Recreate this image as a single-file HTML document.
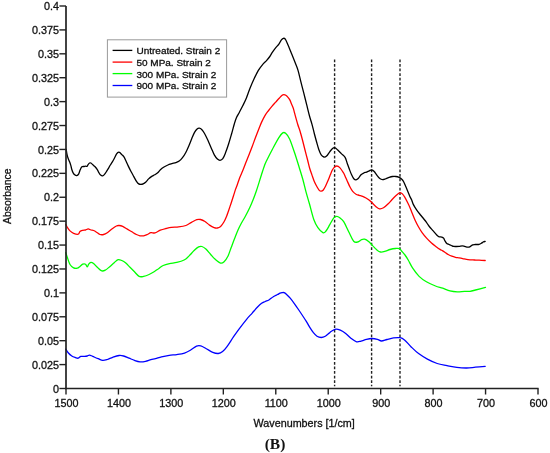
<!DOCTYPE html><html><head><meta charset="utf-8"><style>html,body{margin:0;padding:0;background:#fff;}svg{display:block;will-change:transform;}text{font-family:"Liberation Sans", sans-serif;fill:#111;stroke:#111;stroke-width:0.3px;}</style></head><body>
<svg width="550" height="453" viewBox="0 0 550 453">
<rect width="550" height="453" fill="#fff"/>
<line x1="334.60" y1="59.4" x2="334.60" y2="386.3" stroke="#222" stroke-width="1.4" stroke-dasharray="2.8 1.783"/>
<line x1="371.60" y1="59.4" x2="371.60" y2="386.3" stroke="#222" stroke-width="1.4" stroke-dasharray="2.8 1.783"/>
<line x1="400.00" y1="59.4" x2="400.00" y2="386.3" stroke="#222" stroke-width="1.4" stroke-dasharray="2.8 1.783"/>
<path d="M66.20 149.40 C66.33 150.22 66.68 152.83 67.00 154.30 C67.32 155.77 67.65 156.90 68.10 158.20 C68.55 159.50 69.25 160.90 69.70 162.10 C70.15 163.30 70.43 164.12 70.80 165.40 C71.17 166.68 71.53 168.60 71.90 169.80 C72.27 171.00 72.53 171.77 73.00 172.60 C73.47 173.43 74.08 174.28 74.70 174.80 C75.32 175.32 76.05 175.80 76.70 175.70 C77.35 175.60 78.02 175.18 78.60 174.20 C79.18 173.22 79.65 171.03 80.20 169.80 C80.75 168.57 81.25 167.35 81.90 166.80 C82.55 166.25 83.47 166.60 84.10 166.50 C84.73 166.40 85.18 166.23 85.70 166.20 C86.22 166.17 86.83 166.53 87.20 166.30 C87.57 166.07 87.50 165.35 87.90 164.80 C88.30 164.25 89.10 163.30 89.60 163.00 C90.10 162.70 90.35 162.70 90.90 163.00 C91.45 163.30 92.20 164.17 92.90 164.80 C93.60 165.43 94.37 166.00 95.10 166.80 C95.83 167.60 96.65 168.58 97.30 169.60 C97.95 170.62 98.45 171.98 99.00 172.90 C99.55 173.82 100.00 174.60 100.60 175.10 C101.20 175.60 101.95 176.02 102.60 175.90 C103.25 175.78 103.82 175.18 104.50 174.40 C105.18 173.62 105.97 172.33 106.70 171.20 C107.43 170.07 108.35 168.55 108.90 167.60 C109.45 166.65 109.45 166.42 110.00 165.50 C110.55 164.58 111.47 163.32 112.20 162.10 C112.93 160.88 113.67 159.58 114.40 158.20 C115.13 156.82 115.87 154.82 116.60 153.80 C117.33 152.78 118.15 152.20 118.80 152.10 C119.45 152.00 119.95 152.73 120.50 153.20 C121.05 153.67 121.55 154.33 122.10 154.90 C122.65 155.47 123.15 155.58 123.80 156.60 C124.45 157.62 125.27 159.45 126.00 161.00 C126.73 162.55 127.37 164.15 128.20 165.90 C129.03 167.65 130.08 169.75 131.00 171.50 C131.92 173.25 132.78 174.75 133.70 176.40 C134.62 178.05 135.67 180.15 136.50 181.40 C137.33 182.65 137.97 183.40 138.70 183.90 C139.43 184.40 140.17 184.40 140.90 184.40 C141.63 184.40 142.27 184.32 143.10 183.90 C143.93 183.48 144.98 182.73 145.90 181.90 C146.82 181.07 147.68 179.78 148.60 178.90 C149.52 178.02 150.38 177.28 151.40 176.60 C152.42 175.92 153.65 175.43 154.70 174.80 C155.75 174.17 156.75 173.65 157.70 172.80 C158.65 171.95 159.35 170.67 160.40 169.70 C161.45 168.73 162.75 167.78 164.00 167.00 C165.25 166.22 166.58 165.55 167.90 165.00 C169.22 164.45 170.57 164.10 171.90 163.70 C173.23 163.30 174.68 163.03 175.90 162.60 C177.12 162.17 178.10 161.92 179.20 161.10 C180.30 160.28 181.40 159.13 182.50 157.70 C183.60 156.27 184.70 154.58 185.80 152.50 C186.90 150.42 188.10 147.53 189.10 145.20 C190.10 142.87 190.92 140.60 191.80 138.50 C192.68 136.40 193.52 134.18 194.40 132.60 C195.28 131.02 196.28 129.73 197.10 129.00 C197.92 128.27 198.53 128.12 199.30 128.20 C200.07 128.28 200.85 128.67 201.70 129.50 C202.55 130.33 203.37 131.40 204.40 133.20 C205.43 135.00 206.77 137.85 207.90 140.30 C209.03 142.75 210.13 145.47 211.20 147.90 C212.27 150.33 213.27 153.05 214.30 154.90 C215.33 156.75 216.45 158.10 217.40 159.00 C218.35 159.90 219.10 160.35 220.00 160.30 C220.90 160.25 221.87 159.98 222.80 158.70 C223.73 157.42 224.65 155.00 225.60 152.60 C226.55 150.20 227.53 147.32 228.50 144.30 C229.47 141.28 230.43 137.88 231.40 134.50 C232.37 131.12 233.45 126.83 234.30 124.00 C235.15 121.17 235.65 119.47 236.50 117.50 C237.35 115.53 238.32 114.23 239.40 112.20 C240.48 110.17 241.85 107.63 243.00 105.30 C244.15 102.97 245.15 101.00 246.30 98.20 C247.45 95.40 248.60 91.73 249.90 88.50 C251.20 85.27 252.72 81.78 254.10 78.80 C255.48 75.82 256.82 72.93 258.20 70.60 C259.58 68.27 261.02 66.47 262.40 64.80 C263.78 63.13 265.27 61.98 266.50 60.60 C267.73 59.22 268.83 57.87 269.80 56.50 C270.77 55.13 271.33 53.83 272.30 52.40 C273.27 50.97 274.50 49.28 275.60 47.90 C276.70 46.52 277.93 45.43 278.90 44.10 C279.87 42.77 280.65 40.87 281.40 39.90 C282.15 38.93 282.75 38.42 283.40 38.30 C284.05 38.18 284.57 38.18 285.30 39.20 C286.03 40.22 286.75 41.97 287.80 44.40 C288.85 46.83 290.35 50.68 291.60 53.80 C292.85 56.92 294.22 60.30 295.30 63.10 C296.38 65.90 297.17 67.47 298.10 70.60 C299.03 73.73 299.95 78.13 300.90 81.90 C301.85 85.67 302.85 89.45 303.80 93.20 C304.75 96.95 305.65 100.60 306.60 104.40 C307.55 108.20 308.60 112.68 309.50 116.00 C310.40 119.32 311.20 121.38 312.00 124.30 C312.80 127.22 313.53 130.55 314.30 133.50 C315.07 136.45 315.83 139.28 316.60 142.00 C317.37 144.72 318.13 147.65 318.90 149.80 C319.67 151.95 320.37 153.70 321.20 154.90 C322.03 156.10 323.00 156.82 323.90 157.00 C324.80 157.18 325.63 156.87 326.60 156.00 C327.57 155.13 328.67 153.10 329.70 151.80 C330.73 150.50 331.90 148.87 332.80 148.20 C333.70 147.53 334.32 147.53 335.10 147.80 C335.88 148.07 336.47 148.83 337.50 149.80 C338.53 150.77 340.03 152.33 341.30 153.60 C342.57 154.87 344.12 155.80 345.10 157.40 C346.08 159.00 346.48 161.22 347.20 163.20 C347.92 165.18 348.67 167.37 349.40 169.30 C350.13 171.23 350.87 173.23 351.60 174.80 C352.33 176.37 353.07 177.87 353.80 178.70 C354.53 179.53 355.27 179.83 356.00 179.80 C356.73 179.77 357.37 179.33 358.20 178.50 C359.03 177.67 360.07 175.72 361.00 174.80 C361.93 173.88 362.88 173.45 363.80 173.00 C364.72 172.55 365.58 172.47 366.50 172.10 C367.42 171.73 368.43 171.17 369.30 170.80 C370.17 170.43 370.88 169.78 371.70 169.90 C372.52 170.02 373.32 170.58 374.20 171.50 C375.08 172.42 376.07 174.23 377.00 175.40 C377.93 176.57 378.88 177.80 379.80 178.50 C380.72 179.20 381.58 179.52 382.50 179.60 C383.42 179.68 384.18 179.37 385.30 179.00 C386.42 178.63 388.00 177.82 389.20 177.40 C390.40 176.98 391.40 176.65 392.50 176.50 C393.60 176.35 394.70 176.35 395.80 176.50 C396.90 176.65 398.10 176.95 399.10 177.40 C400.10 177.85 401.07 178.52 401.80 179.20 C402.53 179.88 402.80 180.18 403.50 181.50 C404.20 182.82 404.93 184.62 406.00 187.10 C407.07 189.58 408.95 194.25 409.90 196.40 C410.85 198.55 411.13 198.67 411.70 200.00 C412.27 201.33 412.48 202.75 413.30 204.40 C414.12 206.05 415.32 208.05 416.60 209.90 C417.88 211.75 419.52 213.65 421.00 215.50 C422.48 217.35 424.12 219.17 425.50 221.00 C426.88 222.83 428.02 224.85 429.30 226.50 C430.58 228.15 432.00 229.52 433.20 230.90 C434.40 232.28 435.58 233.85 436.50 234.80 C437.42 235.75 437.82 236.22 438.70 236.60 C439.58 236.98 440.98 236.83 441.80 237.10 C442.62 237.37 443.07 237.57 443.60 238.20 C444.13 238.83 444.47 240.02 445.00 240.90 C445.53 241.78 446.12 242.90 446.80 243.50 C447.48 244.10 448.33 244.17 449.10 244.50 C449.87 244.83 450.65 245.18 451.40 245.50 C452.15 245.82 452.77 246.23 453.60 246.40 C454.43 246.57 455.48 246.50 456.40 246.50 C457.32 246.50 458.12 246.50 459.10 246.40 C460.08 246.30 461.40 245.90 462.30 245.90 C463.20 245.90 463.75 246.20 464.50 246.40 C465.25 246.60 466.03 246.98 466.80 247.10 C467.57 247.22 468.42 247.27 469.10 247.10 C469.78 246.93 470.30 246.48 470.90 246.10 C471.50 245.72 472.02 245.07 472.70 244.80 C473.38 244.53 474.23 244.55 475.00 244.50 C475.77 244.45 476.62 244.53 477.30 244.50 C477.98 244.47 478.42 244.52 479.10 244.30 C479.78 244.08 480.72 243.58 481.40 243.20 C482.08 242.82 482.57 242.30 483.20 242.00 C483.83 241.70 484.87 241.50 485.20 241.40" fill="none" stroke="#000" stroke-width="1.3" stroke-linejoin="round" stroke-linecap="round"/>
<path d="M65.80 224.50 C66.05 224.97 66.60 226.23 67.30 227.30 C68.00 228.37 68.95 229.90 70.00 230.90 C71.05 231.90 72.23 232.75 73.60 233.30 C74.97 233.85 77.13 234.50 78.20 234.20 C79.27 233.90 79.25 232.13 80.00 231.50 C80.75 230.87 81.78 230.65 82.70 230.40 C83.62 230.15 84.58 230.25 85.50 230.00 C86.42 229.75 87.30 228.90 88.20 228.90 C89.10 228.90 90.00 229.73 90.90 230.00 C91.80 230.27 92.53 230.05 93.60 230.50 C94.67 230.95 96.23 232.03 97.30 232.70 C98.37 233.37 98.95 234.20 100.00 234.50 C101.05 234.80 102.38 234.80 103.60 234.50 C104.82 234.20 105.93 233.60 107.30 232.70 C108.67 231.80 110.28 230.22 111.80 229.10 C113.32 227.98 115.18 226.60 116.40 226.00 C117.62 225.40 118.05 225.43 119.10 225.50 C120.15 225.57 121.33 225.80 122.70 226.40 C124.07 227.00 125.78 228.20 127.30 229.10 C128.82 230.00 130.28 230.90 131.80 231.80 C133.32 232.70 135.03 233.83 136.40 234.50 C137.77 235.17 138.80 235.58 140.00 235.80 C141.20 236.02 142.38 236.02 143.60 235.80 C144.82 235.58 146.08 235.02 147.30 234.50 C148.52 233.98 149.62 232.97 150.90 232.70 C152.18 232.43 153.43 233.32 155.00 232.90 C156.57 232.48 158.48 230.93 160.30 230.20 C162.12 229.47 164.05 228.98 165.90 228.50 C167.75 228.02 169.28 227.57 171.40 227.30 C173.52 227.03 176.18 227.20 178.60 226.90 C181.02 226.60 183.77 226.25 185.90 225.50 C188.03 224.75 189.58 223.38 191.40 222.40 C193.22 221.42 195.28 220.08 196.80 219.60 C198.32 219.12 199.13 219.18 200.50 219.50 C201.87 219.82 203.50 220.57 205.00 221.50 C206.50 222.43 207.98 224.08 209.50 225.10 C211.02 226.12 212.80 227.12 214.10 227.60 C215.40 228.08 216.22 228.20 217.30 228.00 C218.38 227.80 219.50 227.40 220.60 226.40 C221.70 225.40 222.88 223.75 223.90 222.00 C224.92 220.25 225.95 217.70 226.70 215.90 C227.45 214.10 227.67 213.32 228.40 211.20 C229.13 209.08 230.25 205.77 231.10 203.20 C231.95 200.63 232.77 198.10 233.50 195.80 C234.23 193.50 234.88 191.20 235.50 189.40 C236.12 187.60 236.52 186.92 237.20 185.00 C237.88 183.08 238.63 180.40 239.60 177.90 C240.57 175.40 241.88 172.73 243.00 170.00 C244.12 167.27 245.22 164.25 246.30 161.50 C247.38 158.75 248.50 156.03 249.50 153.50 C250.50 150.97 251.30 148.97 252.30 146.30 C253.30 143.63 254.33 140.60 255.50 137.50 C256.67 134.40 258.30 130.22 259.30 127.70 C260.30 125.18 260.53 124.45 261.50 122.40 C262.47 120.35 263.92 117.38 265.10 115.40 C266.28 113.42 267.43 112.05 268.60 110.50 C269.77 108.95 270.92 107.50 272.10 106.10 C273.28 104.70 274.52 103.42 275.70 102.10 C276.88 100.78 278.18 99.30 279.20 98.20 C280.22 97.10 281.03 96.10 281.80 95.50 C282.57 94.90 283.13 94.65 283.80 94.60 C284.47 94.55 285.10 94.75 285.80 95.20 C286.50 95.65 287.33 96.52 288.00 97.30 C288.67 98.08 289.22 98.80 289.80 99.90 C290.38 101.00 290.92 102.50 291.50 103.90 C292.08 105.30 292.77 106.70 293.30 108.30 C293.83 109.90 293.97 110.85 294.70 113.50 C295.43 116.15 296.82 121.28 297.70 124.20 C298.58 127.12 299.18 128.28 300.00 131.00 C300.82 133.72 301.77 137.33 302.60 140.50 C303.43 143.67 304.17 146.75 305.00 150.00 C305.83 153.25 306.83 157.00 307.60 160.00 C308.37 163.00 308.87 165.48 309.60 168.00 C310.33 170.52 311.22 172.85 312.00 175.10 C312.78 177.35 313.45 179.52 314.30 181.50 C315.15 183.48 316.23 185.48 317.10 187.00 C317.97 188.52 318.83 189.90 319.50 190.60 C320.17 191.30 320.50 191.27 321.10 191.20 C321.70 191.13 322.37 191.03 323.10 190.20 C323.83 189.37 324.72 187.72 325.50 186.20 C326.28 184.68 327.02 182.95 327.80 181.10 C328.58 179.25 329.47 176.90 330.20 175.10 C330.93 173.30 331.57 171.55 332.20 170.30 C332.83 169.05 333.25 168.32 334.00 167.60 C334.75 166.88 335.73 166.00 336.70 166.00 C337.67 166.00 338.65 166.43 339.80 167.60 C340.95 168.77 342.73 171.62 343.60 173.00 C344.47 174.38 344.40 174.58 345.00 175.90 C345.60 177.22 346.37 179.05 347.20 180.90 C348.03 182.75 349.08 185.25 350.00 187.00 C350.92 188.75 351.70 190.20 352.70 191.40 C353.70 192.60 354.90 193.55 356.00 194.20 C357.10 194.85 358.18 194.93 359.30 195.30 C360.42 195.67 361.58 195.95 362.70 196.40 C363.82 196.85 365.00 197.45 366.00 198.00 C367.00 198.55 367.77 198.98 368.70 199.70 C369.63 200.42 370.47 201.22 371.60 202.30 C372.73 203.38 374.18 205.12 375.50 206.20 C376.82 207.28 378.17 208.53 379.50 208.80 C380.83 209.07 382.00 208.68 383.50 207.80 C385.00 206.92 387.10 204.85 388.50 203.50 C389.90 202.15 390.68 200.98 391.90 199.70 C393.12 198.42 394.60 196.92 395.80 195.80 C397.00 194.68 398.28 193.50 399.10 193.00 C399.92 192.50 400.15 192.65 400.70 192.80 C401.25 192.95 401.75 193.22 402.40 193.90 C403.05 194.58 403.72 195.42 404.60 196.90 C405.48 198.38 406.80 201.00 407.70 202.80 C408.60 204.60 409.25 205.97 410.00 207.70 C410.75 209.43 411.37 211.17 412.20 213.20 C413.03 215.23 413.98 217.68 415.00 219.90 C416.02 222.12 417.12 224.38 418.30 226.50 C419.48 228.62 420.72 230.67 422.10 232.60 C423.48 234.53 425.03 236.37 426.60 238.10 C428.17 239.83 429.85 241.53 431.50 243.00 C433.15 244.47 435.08 245.83 436.50 246.90 C437.92 247.97 438.97 248.73 440.00 249.40 C441.03 250.07 441.78 250.35 442.70 250.90 C443.62 251.45 444.58 252.10 445.50 252.70 C446.42 253.30 447.15 253.92 448.20 254.50 C449.25 255.08 450.58 255.73 451.80 256.20 C453.02 256.67 454.28 257.02 455.50 257.30 C456.72 257.58 457.90 257.68 459.10 257.90 C460.30 258.12 461.48 258.35 462.70 258.60 C463.92 258.85 465.18 259.20 466.40 259.40 C467.62 259.60 468.65 259.70 470.00 259.80 C471.35 259.90 472.98 259.93 474.50 260.00 C476.02 260.07 477.32 260.12 479.10 260.20 C480.88 260.28 484.18 260.45 485.20 260.50" fill="none" stroke="#ff0000" stroke-width="1.3" stroke-linejoin="round" stroke-linecap="round"/>
<path d="M65.80 252.70 C66.05 253.47 66.60 255.33 67.30 257.30 C68.00 259.27 68.95 262.75 70.00 264.50 C71.05 266.25 72.38 267.18 73.60 267.80 C74.82 268.42 76.23 268.43 77.30 268.20 C78.37 267.97 79.10 267.07 80.00 266.40 C80.90 265.73 81.78 264.57 82.70 264.20 C83.62 263.83 84.73 263.75 85.50 264.20 C86.27 264.65 86.77 266.90 87.30 266.90 C87.83 266.90 88.10 264.95 88.70 264.20 C89.30 263.45 90.08 262.50 90.90 262.40 C91.72 262.30 92.53 262.78 93.60 263.60 C94.67 264.42 95.93 266.08 97.30 267.30 C98.67 268.52 100.43 270.45 101.80 270.90 C103.17 271.35 104.13 270.75 105.50 270.00 C106.87 269.25 108.50 267.67 110.00 266.40 C111.50 265.13 113.13 263.53 114.50 262.40 C115.87 261.27 116.98 259.92 118.20 259.60 C119.42 259.28 120.58 259.98 121.80 260.50 C123.02 261.02 124.13 261.57 125.50 262.70 C126.87 263.83 128.50 265.78 130.00 267.30 C131.50 268.82 132.98 270.28 134.50 271.80 C136.02 273.32 137.58 275.63 139.10 276.40 C140.62 277.17 141.93 276.72 143.60 276.40 C145.27 276.08 147.28 275.32 149.10 274.50 C150.92 273.68 152.92 272.47 154.50 271.50 C156.08 270.53 157.15 269.70 158.60 268.70 C160.05 267.70 161.38 266.35 163.20 265.50 C165.02 264.65 167.23 264.12 169.50 263.60 C171.77 263.08 174.37 263.00 176.80 262.40 C179.23 261.80 182.13 261.00 184.10 260.00 C186.07 259.00 186.93 257.98 188.60 256.40 C190.27 254.82 192.43 252.08 194.10 250.50 C195.77 248.92 197.30 247.57 198.60 246.90 C199.90 246.23 200.68 246.13 201.90 246.50 C203.12 246.87 204.47 247.82 205.90 249.10 C207.33 250.38 208.98 252.53 210.50 254.20 C212.02 255.87 213.33 257.62 215.00 259.10 C216.67 260.58 218.98 262.65 220.50 263.10 C222.02 263.55 222.87 262.93 224.10 261.80 C225.33 260.67 226.72 258.68 227.90 256.30 C229.08 253.92 230.08 250.47 231.20 247.50 C232.32 244.53 233.48 241.38 234.60 238.50 C235.72 235.62 236.80 232.70 237.90 230.20 C239.00 227.70 239.93 225.87 241.20 223.50 C242.47 221.13 244.07 218.67 245.50 216.00 C246.93 213.33 248.52 210.25 249.80 207.50 C251.08 204.75 252.08 202.33 253.20 199.50 C254.32 196.67 255.22 194.33 256.50 190.50 C257.78 186.67 259.57 180.67 260.90 176.50 C262.23 172.33 263.53 168.17 264.50 165.50 C265.47 162.83 265.33 163.28 266.70 160.50 C268.07 157.72 270.70 152.57 272.70 148.80 C274.70 145.03 277.03 140.55 278.70 137.90 C280.37 135.25 281.55 133.67 282.70 132.90 C283.85 132.13 284.45 132.30 285.60 133.30 C286.75 134.30 288.10 135.65 289.60 138.90 C291.10 142.15 292.93 147.83 294.60 152.80 C296.27 157.77 298.20 164.17 299.60 168.70 C301.00 173.23 301.93 176.13 303.00 180.00 C304.07 183.87 304.92 187.90 306.00 191.90 C307.08 195.90 308.18 199.35 309.50 204.00 C310.82 208.65 312.50 215.85 313.90 219.80 C315.30 223.75 316.40 225.55 317.90 227.70 C319.40 229.85 321.58 232.10 322.90 232.70 C324.22 233.30 324.65 232.63 325.80 231.30 C326.95 229.97 328.47 226.95 329.80 224.70 C331.13 222.45 332.63 219.18 333.80 217.80 C334.97 216.42 335.80 216.40 336.80 216.40 C337.80 216.40 338.65 216.92 339.80 217.80 C340.95 218.68 342.22 219.38 343.70 221.70 C345.18 224.02 347.03 228.45 348.70 231.70 C350.37 234.95 352.20 239.48 353.70 241.20 C355.20 242.92 356.38 242.27 357.70 242.00 C359.02 241.73 360.45 240.07 361.60 239.60 C362.75 239.13 363.43 238.87 364.60 239.20 C365.77 239.53 367.27 240.53 368.60 241.60 C369.93 242.67 371.28 244.27 372.60 245.60 C373.92 246.93 375.18 248.53 376.50 249.60 C377.82 250.67 379.00 251.73 380.50 252.00 C382.00 252.27 383.92 251.62 385.50 251.20 C387.08 250.78 388.33 249.95 390.00 249.50 C391.67 249.05 393.93 248.63 395.50 248.50 C397.07 248.37 398.30 248.18 399.40 248.70 C400.50 249.22 401.17 250.55 402.10 251.60 C403.03 252.65 403.98 253.60 405.00 255.00 C406.02 256.40 406.92 257.80 408.20 260.00 C409.48 262.20 410.88 265.47 412.70 268.20 C414.52 270.93 416.82 274.13 419.10 276.40 C421.38 278.67 423.67 280.20 426.40 281.80 C429.13 283.40 432.78 284.93 435.50 286.00 C438.22 287.07 440.28 287.38 442.70 288.20 C445.12 289.02 447.57 290.30 450.00 290.90 C452.43 291.50 454.88 291.73 457.30 291.80 C459.72 291.87 462.38 291.38 464.50 291.30 C466.62 291.22 468.17 291.52 470.00 291.30 C471.83 291.08 472.92 290.67 475.50 290.00 C478.08 289.33 483.83 287.75 485.50 287.30" fill="none" stroke="#00ff00" stroke-width="1.3" stroke-linejoin="round" stroke-linecap="round"/>
<path d="M65.80 349.10 C66.20 349.70 67.20 351.55 68.20 352.70 C69.20 353.85 70.58 355.18 71.80 356.00 C73.02 356.82 74.43 357.23 75.50 357.60 C76.57 357.97 77.30 358.40 78.20 358.20 C79.10 358.00 79.85 356.70 80.90 356.40 C81.95 356.10 83.43 356.47 84.50 356.40 C85.57 356.33 86.47 356.22 87.30 356.00 C88.13 355.78 88.60 355.03 89.50 355.10 C90.40 355.17 91.25 355.80 92.70 356.40 C94.15 357.00 96.53 358.03 98.20 358.70 C99.87 359.37 101.18 360.27 102.70 360.40 C104.22 360.53 105.63 360.02 107.30 359.50 C108.97 358.98 110.73 357.97 112.70 357.30 C114.67 356.63 117.28 355.72 119.10 355.50 C120.92 355.28 121.93 355.55 123.60 356.00 C125.27 356.45 127.28 357.47 129.10 358.20 C130.92 358.93 132.68 359.80 134.50 360.40 C136.32 361.00 138.17 361.65 140.00 361.80 C141.83 361.95 143.68 361.67 145.50 361.30 C147.32 360.93 149.23 360.05 150.90 359.60 C152.57 359.15 153.73 359.07 155.50 358.60 C157.27 358.13 159.22 357.35 161.50 356.80 C163.78 356.25 166.65 355.67 169.20 355.30 C171.75 354.93 174.25 354.97 176.80 354.60 C179.35 354.23 182.13 353.90 184.50 353.10 C186.87 352.30 189.00 350.97 191.00 349.80 C193.00 348.63 194.87 346.75 196.50 346.10 C198.13 345.45 199.17 345.47 200.80 345.90 C202.43 346.33 204.30 347.62 206.30 348.70 C208.30 349.78 210.80 351.60 212.80 352.40 C214.80 353.20 216.67 353.63 218.30 353.50 C219.93 353.37 221.15 352.75 222.60 351.60 C224.05 350.45 225.17 349.08 227.00 346.60 C228.83 344.12 231.60 339.62 233.60 336.70 C235.60 333.78 236.83 332.00 239.00 329.10 C241.17 326.20 244.40 321.97 246.60 319.30 C248.80 316.63 250.42 315.10 252.20 313.10 C253.98 311.10 255.73 308.93 257.30 307.30 C258.87 305.67 260.27 304.27 261.60 303.30 C262.93 302.33 264.08 302.05 265.30 301.50 C266.52 300.95 267.57 300.80 268.90 300.00 C270.23 299.20 271.85 297.62 273.30 296.70 C274.75 295.78 276.48 295.08 277.60 294.50 C278.72 293.92 279.27 293.52 280.00 293.20 C280.73 292.88 281.30 292.68 282.00 292.60 C282.70 292.52 283.35 292.32 284.20 292.70 C285.05 293.08 286.10 293.98 287.10 294.90 C288.10 295.82 288.97 296.72 290.20 298.20 C291.43 299.68 293.07 301.83 294.50 303.80 C295.93 305.77 296.83 307.07 298.80 310.00 C300.77 312.93 304.47 318.50 306.30 321.40 C308.13 324.30 308.62 325.52 309.80 327.40 C310.98 329.28 312.20 331.22 313.40 332.70 C314.60 334.18 315.70 335.50 317.00 336.30 C318.30 337.10 319.82 337.50 321.20 337.50 C322.58 337.50 324.02 337.00 325.30 336.30 C326.58 335.60 327.87 334.13 328.90 333.30 C329.93 332.47 330.33 332.00 331.50 331.30 C332.67 330.60 334.43 329.28 335.90 329.10 C337.37 328.92 338.67 329.47 340.30 330.20 C341.93 330.93 343.88 332.12 345.70 333.50 C347.52 334.88 349.38 337.12 351.20 338.50 C353.02 339.88 354.97 341.37 356.60 341.80 C358.23 342.23 359.35 341.52 361.00 341.10 C362.65 340.68 364.68 339.73 366.50 339.30 C368.32 338.87 370.08 338.50 371.90 338.50 C373.72 338.50 375.80 338.88 377.40 339.30 C379.00 339.72 379.90 340.97 381.50 341.00 C383.10 341.03 385.00 340.02 387.00 339.50 C389.00 338.98 391.32 338.20 393.50 337.90 C395.68 337.60 398.27 337.37 400.10 337.70 C401.93 338.03 402.68 338.40 404.50 339.90 C406.32 341.40 408.65 344.42 411.00 346.70 C413.35 348.98 415.87 351.53 418.60 353.60 C421.33 355.67 424.30 357.45 427.40 359.10 C430.50 360.75 433.93 362.42 437.20 363.50 C440.47 364.58 443.73 364.95 447.00 365.60 C450.27 366.25 453.53 367.00 456.80 367.40 C460.07 367.80 463.50 368.03 466.60 368.00 C469.70 367.97 472.30 367.48 475.40 367.20 C478.50 366.92 483.57 366.45 485.20 366.30" fill="none" stroke="#0000ff" stroke-width="1.3" stroke-linejoin="round" stroke-linecap="round"/>
<line x1="66" y1="6" x2="66" y2="389.2" stroke="#222" stroke-width="1.7"/>
<line x1="65.2" y1="388.4" x2="538.6" y2="388.4" stroke="#222" stroke-width="1.5"/>
<line x1="59.4" y1="388.50" x2="66" y2="388.50" stroke="#222" stroke-width="1.4"/>
<text x="59.1" y="392.60" font-size="10.8" text-anchor="end">0</text>
<line x1="59.4" y1="364.59" x2="66" y2="364.59" stroke="#222" stroke-width="1.4"/>
<text x="59.1" y="368.69" font-size="10.8" text-anchor="end">0.025</text>
<line x1="59.4" y1="340.69" x2="66" y2="340.69" stroke="#222" stroke-width="1.4"/>
<text x="59.1" y="344.79" font-size="10.8" text-anchor="end">0.05</text>
<line x1="59.4" y1="316.78" x2="66" y2="316.78" stroke="#222" stroke-width="1.4"/>
<text x="59.1" y="320.88" font-size="10.8" text-anchor="end">0.075</text>
<line x1="59.4" y1="292.88" x2="66" y2="292.88" stroke="#222" stroke-width="1.4"/>
<text x="59.1" y="296.98" font-size="10.8" text-anchor="end">0.1</text>
<line x1="59.4" y1="268.97" x2="66" y2="268.97" stroke="#222" stroke-width="1.4"/>
<text x="59.1" y="273.07" font-size="10.8" text-anchor="end">0.125</text>
<line x1="59.4" y1="245.06" x2="66" y2="245.06" stroke="#222" stroke-width="1.4"/>
<text x="59.1" y="249.16" font-size="10.8" text-anchor="end">0.15</text>
<line x1="59.4" y1="221.16" x2="66" y2="221.16" stroke="#222" stroke-width="1.4"/>
<text x="59.1" y="225.26" font-size="10.8" text-anchor="end">0.175</text>
<line x1="59.4" y1="197.25" x2="66" y2="197.25" stroke="#222" stroke-width="1.4"/>
<text x="59.1" y="201.35" font-size="10.8" text-anchor="end">0.2</text>
<line x1="59.4" y1="173.34" x2="66" y2="173.34" stroke="#222" stroke-width="1.4"/>
<text x="59.1" y="177.44" font-size="10.8" text-anchor="end">0.225</text>
<line x1="59.4" y1="149.44" x2="66" y2="149.44" stroke="#222" stroke-width="1.4"/>
<text x="59.1" y="153.54" font-size="10.8" text-anchor="end">0.25</text>
<line x1="59.4" y1="125.53" x2="66" y2="125.53" stroke="#222" stroke-width="1.4"/>
<text x="59.1" y="129.63" font-size="10.8" text-anchor="end">0.275</text>
<line x1="59.4" y1="101.62" x2="66" y2="101.62" stroke="#222" stroke-width="1.4"/>
<text x="59.1" y="105.72" font-size="10.8" text-anchor="end">0.3</text>
<line x1="59.4" y1="77.72" x2="66" y2="77.72" stroke="#222" stroke-width="1.4"/>
<text x="59.1" y="81.82" font-size="10.8" text-anchor="end">0.325</text>
<line x1="59.4" y1="53.81" x2="66" y2="53.81" stroke="#222" stroke-width="1.4"/>
<text x="59.1" y="57.91" font-size="10.8" text-anchor="end">0.35</text>
<line x1="59.4" y1="29.91" x2="66" y2="29.91" stroke="#222" stroke-width="1.4"/>
<text x="59.1" y="34.01" font-size="10.8" text-anchor="end">0.375</text>
<line x1="59.4" y1="6.00" x2="66" y2="6.00" stroke="#222" stroke-width="1.4"/>
<text x="59.1" y="10.10" font-size="10.8" text-anchor="end">0.4</text>
<line x1="66.00" y1="388.4" x2="66.00" y2="394.5" stroke="#222" stroke-width="1.4"/>
<text x="66.50" y="407" font-size="10.8" text-anchor="middle">1500</text>
<line x1="118.44" y1="388.4" x2="118.44" y2="394.5" stroke="#222" stroke-width="1.4"/>
<text x="118.94" y="407" font-size="10.8" text-anchor="middle">1400</text>
<line x1="170.89" y1="388.4" x2="170.89" y2="394.5" stroke="#222" stroke-width="1.4"/>
<text x="171.39" y="407" font-size="10.8" text-anchor="middle">1300</text>
<line x1="223.33" y1="388.4" x2="223.33" y2="394.5" stroke="#222" stroke-width="1.4"/>
<text x="223.83" y="407" font-size="10.8" text-anchor="middle">1200</text>
<line x1="275.78" y1="388.4" x2="275.78" y2="394.5" stroke="#222" stroke-width="1.4"/>
<text x="276.28" y="407" font-size="10.8" text-anchor="middle">1100</text>
<line x1="328.22" y1="388.4" x2="328.22" y2="394.5" stroke="#222" stroke-width="1.4"/>
<text x="328.72" y="407" font-size="10.8" text-anchor="middle">1000</text>
<line x1="380.67" y1="388.4" x2="380.67" y2="394.5" stroke="#222" stroke-width="1.4"/>
<text x="381.17" y="407" font-size="10.8" text-anchor="middle">900</text>
<line x1="433.11" y1="388.4" x2="433.11" y2="394.5" stroke="#222" stroke-width="1.4"/>
<text x="433.61" y="407" font-size="10.8" text-anchor="middle">800</text>
<line x1="485.56" y1="388.4" x2="485.56" y2="394.5" stroke="#222" stroke-width="1.4"/>
<text x="486.06" y="407" font-size="10.8" text-anchor="middle">700</text>
<line x1="538.00" y1="388.4" x2="538.00" y2="394.5" stroke="#222" stroke-width="1.4"/>
<text x="538.50" y="407" font-size="10.8" text-anchor="middle">600</text>
<text x="304.2" y="426.8" font-size="10.75" text-anchor="middle">Wavenumbers [1/cm]</text>
<text transform="translate(10.9 196.2) rotate(-90)" font-size="10.4" text-anchor="middle">Absorbance</text>
<text x="275" y="449.2" font-size="15.5" font-weight="bold" text-anchor="middle" style="font-family:'Liberation Serif', serif;stroke:none">(B)</text>
<rect x="107.4" y="39.8" width="119.2" height="57.3" fill="#fff" stroke="#999" stroke-width="1"/>
<line x1="112.6" y1="50.40" x2="132.3" y2="50.40" stroke="#000" stroke-width="1.3"/>
<text transform="translate(136.5 54.40) scale(1.08 1)" font-size="9.25">Untreated. Strain 2</text>
<line x1="112.6" y1="62.10" x2="132.3" y2="62.10" stroke="#ff0000" stroke-width="1.3"/>
<text transform="translate(136.5 66.00) scale(1.08 1)" font-size="9.25">50 MPa. Strain 2</text>
<line x1="112.6" y1="73.60" x2="132.3" y2="73.60" stroke="#00ff00" stroke-width="1.3"/>
<text transform="translate(136.5 77.80) scale(1.08 1)" font-size="9.25">300 MPa. Strain 2</text>
<line x1="112.6" y1="85.50" x2="132.3" y2="85.50" stroke="#0000ff" stroke-width="1.3"/>
<text transform="translate(136.5 89.40) scale(1.08 1)" font-size="9.25">900 MPa. Strain 2</text>
</svg></body></html>
